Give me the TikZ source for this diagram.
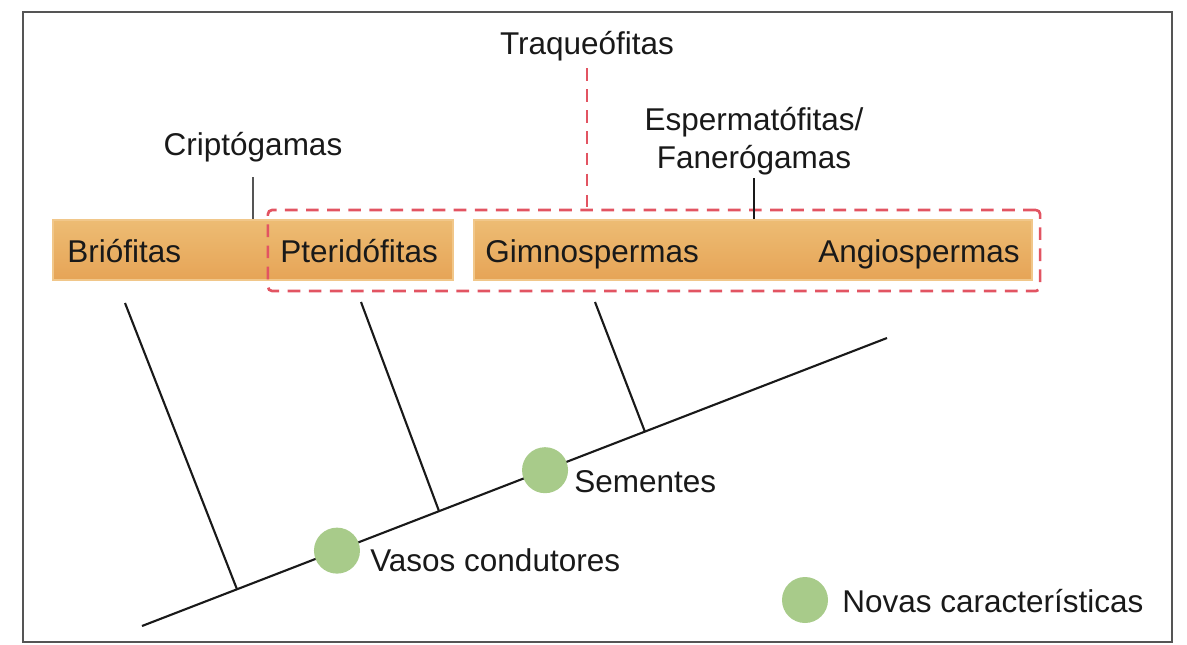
\documentclass[tikz,border=0pt]{standalone}
\usepackage{fontspec}
\setmainfont{Liberation Sans}
\usepackage{xcolor}
\usetikzlibrary{calc}
\definecolor{bandtop}{RGB}{237,188,116}
\definecolor{bandbot}{RGB}{230,164,86}
\definecolor{bandrim}{RGB}{241,199,138}
\definecolor{cladered}{RGB}{226,84,98}
\definecolor{traitgreen}{RGB}{168,203,138}
\definecolor{framegray}{RGB}{85,85,85}
\definecolor{inkgray}{RGB}{25,25,25}

\begin{document}
\begin{tikzpicture}[x=0.025cm,y=-0.025cm,font=\fontsize{22.4}{26.9}\selectfont,
  lbl/.style={inner sep=0pt,text=inkgray},
  band/.style={rectangle,draw=bandrim,line width=1.2pt,top color=bandtop,bottom color=bandbot,minimum height=1.5cm,inner sep=0pt},
  clade/.style={draw=cladered,line width=1.9pt,dash pattern=on 9pt off 6pt},
  stem/.style={line width=1.5pt,inkgray},
  trait/.style={circle,fill=traitgreen,minimum size=1.15cm,inner sep=0pt}]
\useasboundingbox (0,0) rectangle (1187,644);
\draw[framegray,line width=1.8pt] (23,12) rectangle (1172,642);
\node[band,minimum width=10cm] (bandL) at (253,250) {};
\node[band,minimum width=13.95cm] (bandR) at (753,250) {};
\node[lbl,anchor=base west] (brio) at (67,262) {Briófitas};
\node[lbl,anchor=base west] (pteri) at (280,262) {Pteridófitas};
\node[lbl,anchor=base west] (gimno) at (485,262) {Gimnospermas};
\node[lbl,anchor=base east] (angio) at (1020,262) {Angiospermas};
\node[clade,rectangle,rounded corners=3pt,minimum width=19.3cm,minimum height=2.025cm] (tracheo) at (654,250.5) {};
\node[lbl,anchor=base] (traq) at (587,55) {Traqueófitas};
\node[lbl,anchor=base] (cripto) at (253,155) {Criptógamas};
\node[lbl,anchor=south,align=center] (esperma) at (754,175) {Espermatófitas/\\Fanerógamas};
\draw[clade,shorten <=0.16cm] (traq.south) -- (traq.south |- tracheo.north);
\draw[line width=1.6pt,framegray,shorten <=0.38cm] (cripto.south) -- (cripto.south |- bandL.north);
\draw[stem,shorten <=0.08cm] (esperma.south) -- (esperma.south |- bandR.north);
\coordinate (root) at (142,626);
\coordinate (crown) at (887,338);
\coordinate (briTop) at (125,303);
\coordinate (pteTop) at (361,302);
\coordinate (gimTop) at (595,302);
\coordinate (briFork) at ($(root)!0.1275!(crown)$);
\coordinate (pteFork) at ($(root)!0.3987!(crown)$);
\coordinate (gimFork) at ($(root)!0.675!(crown)$);
\draw[stem] (root) -- (crown);
\draw[stem] (briTop) -- (briFork);
\draw[stem] (pteTop) -- (pteFork);
\draw[stem] (gimTop) -- (gimFork);
\node[trait] (vasos) at ($(root)!0.2617!(crown)$) {};
\node[trait] (sementes) at ($(root)!0.541!(crown)$) {};
\node[lbl,anchor=base west] (vasosTxt) at (370,571) {Vasos condutores};
\node[lbl,anchor=base west] (sementesTxt) at (574,492) {Sementes};
\node[trait] (novas) at (805,600) {};
\node[lbl,anchor=base west] (novasTxt) at (842,612) {Novas características};
\end{tikzpicture}
\end{document}
